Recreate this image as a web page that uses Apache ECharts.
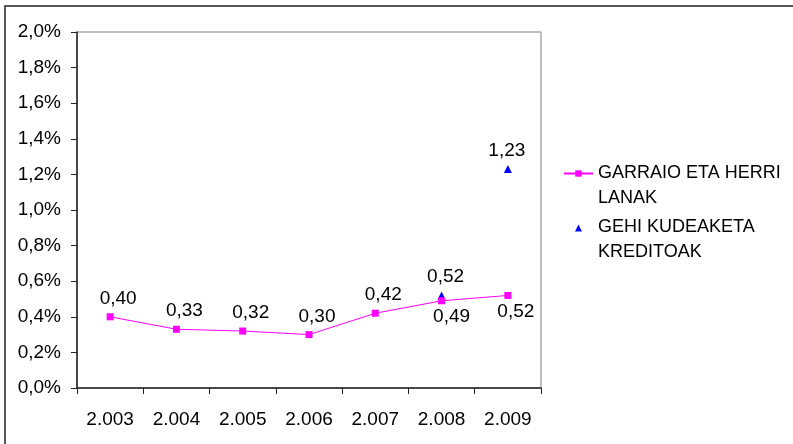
<!DOCTYPE html>
<html>
<head>
<meta charset="utf-8">
<script src="https://cdn.jsdelivr.net/npm/echarts@6/dist/echarts.min.js"></script>
<style>
  html, body { margin: 0; padding: 0; background: #fff; }
  #chart { width: 793px; height: 444px; }
</style>
</head>
<body>
<div id="chart"></div>
<script>
const years = ['2.003', '2.004', '2.005', '2.006', '2.007', '2.008', '2.009']
const garraioValues = [0.40, 0.33, 0.32, 0.30, 0.42, 0.49, 0.52]
const kudeaketaValues = [null, null, null, null, null, 0.52, 1.23]
const seriesNames = ['GARRAIO ETA HERRI LANAK', 'GEHI KUDEAKETA KREDITOAK']
// leading blank line keeps the first text line level with the legend icon
const legendLabels = ['\nGARRAIO ETA HERRI\nLANAK', '\nGEHI KUDEAKETA\nKREDITOAK']

const font = "'Liberation Sans', Arial, sans-serif"
const fmt2 = v => v.toFixed(2).replace('.', ',')

// small triangle centred in the 29x8 legend box (the two moveTo's fix the box so it isn't stretched)
const triangleIcon = 'path://M0,0M29,8M11,8L14.5,1L18,8Z'

// label placement tweaks (Excel puts some labels under the point)
const garraioLabel = i => i >= 5
  ? { position: 'bottom', distance: 3, offset: [i === 5 ? 10 : 8, 0] }
  : { position: 'top', distance: 5, offset: [8, 0] }
const kudeaketaLabel = i => ({ position: 'top', distance: 5, offset: [i === 5 ? 4 : -1, 0] })

const chart = echarts.init(document.getElementById('chart'))
chart.setOption({
  animation: false,
  backgroundColor: '#fff',
  textStyle: { fontFamily: font },
  graphic: [{
    type: 'rect',
    z: -10,
    shape: { x: 5, y: 6, width: 820, height: 470 },
    style: { fill: 'none', stroke: '#222', lineWidth: 1.5 }
  }],
  grid: {
    left: 77, top: 32, right: 252, bottom: 56,
    show: true, borderColor: '#808080', borderWidth: 1, backgroundColor: 'transparent'
  },
  legend: {
    orient: 'vertical',
    left: 558,
    top: 131,
    itemWidth: 29,
    itemHeight: 8,
    itemGap: -21,
    data: [
      { name: seriesNames[0] },
      { name: seriesNames[1], icon: triangleIcon }
    ],
    formatter: name => legendLabels[seriesNames.indexOf(name)],
    textStyle: { fontFamily: font, fontSize: 18, color: '#000', lineHeight: 25 }
  },
  xAxis: {
    type: 'category',
    data: years,
    boundaryGap: true,
    axisLine: { lineStyle: { color: '#222', width: 1.5 } },
    axisTick: { show: true, length: 6, lineStyle: { color: '#222' } },
    axisLabel: { color: '#000', fontSize: 19, margin: 22, fontFamily: font },
    splitLine: { show: false }
  },
  yAxis: {
    type: 'value',
    min: 0,
    max: 2,
    interval: 0.2,
    axisLine: { show: true, lineStyle: { color: '#222', width: 1.5 } },
    axisTick: { show: true, length: 6, lineStyle: { color: '#222' } },
    axisLabel: {
      color: '#000', fontSize: 19, margin: 16, fontFamily: font,
      formatter: v => v.toFixed(1).replace('.', ',') + '%'
    },
    splitLine: { show: false }
  },
  series: [
    {
      name: seriesNames[0],
      type: 'line',
      data: garraioValues.map((v, i) => ({ value: v, label: garraioLabel(i) })),
      symbol: 'rect',
      symbolSize: 7,
      lineStyle: { color: '#ff00ff', width: 1 },
      itemStyle: { color: '#ff00ff' },
      label: { show: true, color: '#000', fontSize: 19, fontFamily: font, formatter: p => fmt2(p.value) }
    },
    {
      name: seriesNames[1],
      type: 'scatter',
      data: kudeaketaValues.map((v, i) => v == null ? null : ({ value: v, label: kudeaketaLabel(i) })),
      symbol: 'triangle',
      symbolSize: 8,
      itemStyle: { color: '#0000ff', opacity: 1 },
      label: { show: true, color: '#000', fontSize: 19, fontFamily: font, formatter: p => fmt2(p.value) }
    }
  ]
})
</script>
</body>
</html>
